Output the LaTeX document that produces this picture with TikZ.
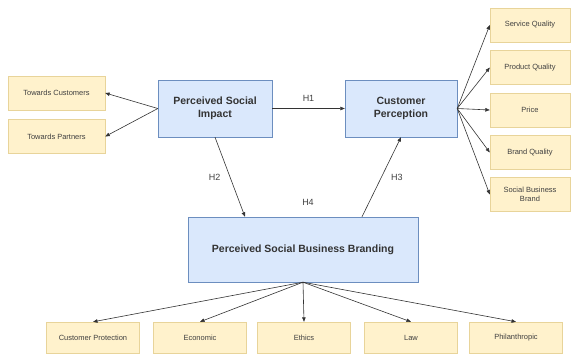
\documentclass[tikz,border=0pt]{standalone}
\usepackage{fontspec}
\setmainfont{Liberation Sans}
\usetikzlibrary{arrows.meta}
\definecolor{bluefill}{HTML}{DAE8FC}
\definecolor{blueline}{HTML}{6C8EBF}
\definecolor{yellowfill}{HTML}{FFF2CC}
\definecolor{yellowline}{HTML}{E8D49A}
\definecolor{linegray}{HTML}{333333}

\begin{document}
\begin{tikzpicture}[x=1pt, y=-1pt,
  construct/.style = {draw=blueline, fill=bluefill, align=center, inner sep=0pt,
    font=\fontsize{10.5}{12.5}\selectfont\bfseries, text=black!80},
  item/.style = {draw=yellowline, fill=yellowfill, align=center, inner sep=0pt,
    minimum height=34pt, font=\fontsize{7.5}{9}\selectfont, text=black!75},
  hyp/.style = {font=\fontsize{9}{10}\selectfont, text=black!75},
  link/.style = {draw=linegray, line width=0.6pt, -{Triangle[length=4.5pt, width=3.5pt]}}]
  \useasboundingbox (0,0) rectangle (581,354);

  % constructs
  \node[construct, minimum width=114pt, minimum height=57pt] (PSI) at (215,108.5) {Perceived Social\\Impact};
  \node[construct, minimum width=112pt, minimum height=57pt] (CP) at (401,108.5) {Customer\\Perception};
  \node[construct, minimum width=230pt, minimum height=65pt] (PSBB) at (303,249.5) {Perceived Social Business Branding};

  % left items
  \node[item, minimum width=97pt] (TC) at (56.5,93) {Towards Customers};
  \node[item, minimum width=97pt] (TP) at (56.5,136.5) {Towards Partners};

  % right items
  \node[item, minimum width=80pt] (SQ) at (530,25) {Service Quality};
  \node[item, minimum width=80pt] (PQ) at (530,67.5) {Product Quality};
  \node[item, minimum width=80pt] (PR) at (530,110) {Price};
  \node[item, minimum width=80pt] (BQ) at (530,152.5) {Brand Quality};
  \node[item, minimum width=80pt] (SBB) at (530,194.5) {Social Business\\Brand};

  % bottom items
  \node[item, minimum width=93pt, minimum height=31pt] (CPr) at (93,337.5) {Customer Protection};
  \node[item, minimum width=93pt, minimum height=31pt] (EC) at (200,337.5) {Economic};
  \node[item, minimum width=93pt, minimum height=31pt] (ET) at (304,337.5) {Ethics};
  \node[item, minimum width=93pt, minimum height=31pt] (LA) at (411,337.5) {Law};
  \node[item, minimum width=93pt, minimum height=31pt] (PH) at (516,337.5) {Philanthropic};

  % hypotheses
  \draw[link] (PSI) -- node[hyp, above=3pt] {H1} (CP);
  \draw[link] (PSI.south) -- node[hyp, left=6pt] {H2} (PSBB.north -| 245,0);
  \draw[link] (PSBB.north -| 362,0) -- node[hyp, right=6pt] {H3} (CP.south);
  \node[hyp] (H4) at (308,202) {H4};

  % dimensions
  \draw[link] (PSI.west) -- (TC.east);
  \draw[link] (PSI.west) -- (TP.east);
  \foreach \n in {SQ,PQ,PR,BQ,SBB}
    \draw[link] (CP.east) -- (\n.west);
  \foreach \n in {CPr,EC,ET,LA,PH}
    \draw[link] (PSBB.south) -- (\n.north);
\end{tikzpicture}
\end{document}
